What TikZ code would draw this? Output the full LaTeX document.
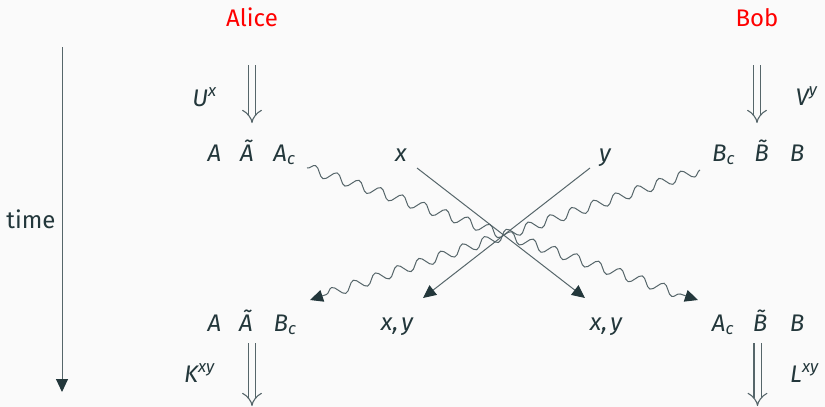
\documentclass[tikz,border=0pt]{standalone}
\usepackage{fontspec}
\setmainfont{Fira Sans}
\usetikzlibrary{arrows.meta,decorations.pathmorphing,calc}
\definecolor{mDarkTeal}{HTML}{23373B}
\definecolor{mBg}{HTML}{FAFAFA}
\definecolor{lineGray}{HTML}{56666A}
\begin{document}
\begin{tikzpicture}[x=1pt,y=-1pt,
  lbl/.style={anchor=base, inner sep=0pt, text=mDarkTeal, font=\fontsize{24}{28}\selectfont\itshape},
  plain/.style={anchor=base, inner sep=0pt, text=mDarkTeal, font=\fontsize{24}{28}\selectfont},
  who/.style={anchor=base, inner sep=0pt, text=red, font=\fontsize{24}{28}\selectfont},
  arr/.style={draw=lineGray, line width=1pt, -{Triangle[length=13pt,width=12pt,color=mDarkTeal]}},
  wavy/.style={arr, decorate, decoration={snake, amplitude=5pt, segment length=23pt, post length=13pt}},
  dbl/.style={draw=lineGray, line width=1.1pt, double=mBg, double distance=6pt, -{Implies}}]
\fill[mBg] (0,0) rectangle (825,407);
\useasboundingbox (0,0) rectangle (825,407);

% names
\node[who] (alice) at (252,26) {Alice};
\node[who] (bob) at (757,26) {Bob};

% operators
\node[lbl] (U) at (204.5,106) {U\textsuperscript{x}};
\node[lbl] (V) at (806.5,105) {V\textsuperscript{y}};
\node[lbl] (K) at (199.5,382) {K\textsuperscript{xy}};
\node[lbl] (L) at (804.5,382) {L\textsuperscript{xy}};

% top row
\node[lbl] (Atop) at (214.5,161) {A};
\node[lbl] (Attop) at (247,161) {\~{A}};
\node[lbl] (Actop) at (284.5,161) {A\textsubscript{c}};
\node[lbl] (xtop) at (401,161) {x};
\node[lbl] (ytop) at (605,161) {y};
\node[lbl] (Bctop) at (723.5,161) {B\textsubscript{c}};
\node[lbl] (Bttop) at (761.5,161) {\~{B}};
\node[lbl] (Btop) at (797,161) {B};

% bottom row
\node[lbl] (Abot) at (214.5,331) {A};
\node[lbl] (Atbot) at (246,331) {\~{A}};
\node[lbl] (Bcbot) at (285,331) {B\textsubscript{c}};
\node[lbl] (xyL) at (397,330) {x,\kern3pt y};
\node[lbl] (xyR) at (606,330) {x,\kern3pt y};
\node[lbl] (Acbot) at (723,331) {A\textsubscript{c}};
\node[lbl] (Btbot) at (760,331) {\~{B}};
\node[lbl] (Bbot) at (797,331) {B};

% time axis
\coordinate (tTop) at (62,47);
\coordinate (tBot) at (62,392);
\draw[arr] (tTop) -- (tBot);
\node[plain] (time) at (31,228) {time};

% unitaries / measurements
\coordinate (aIn) at (252,65);
\coordinate (bIn) at (757,65);
\coordinate (aOut) at (252,406);
\coordinate (bOut) at (757.5,406);
\draw[dbl] (aIn) -- ($(Attop.base)+(5,-38)$);
\draw[dbl] (bIn) -- ($(Bttop.base)+(-4.5,-38)$);
\draw[dbl] ($(Atbot.base)+(6,12)$) -- (aOut);
\draw[dbl] ($(Btbot.base)+(-2.5,12)$) -- (bOut);

% classical inputs
\draw[arr] ($(xtop.base)+(16,7)$) -- ($(xyR.base)+(-21,-32)$);
\draw[arr] ($(ytop.base)+(-15,7)$) -- ($(xyL.base)+(26,-32)$);

% quantum systems
\draw[wavy] ($(Actop.base)+(22.5,7)$) -- ($(Acbot.base)+(-25,-31)$);
\draw[wavy] ($(Bctop.base)+(-23.5,9)$) -- ($(Bcbot.base)+(25,-31)$);
\end{tikzpicture}
\end{document}
